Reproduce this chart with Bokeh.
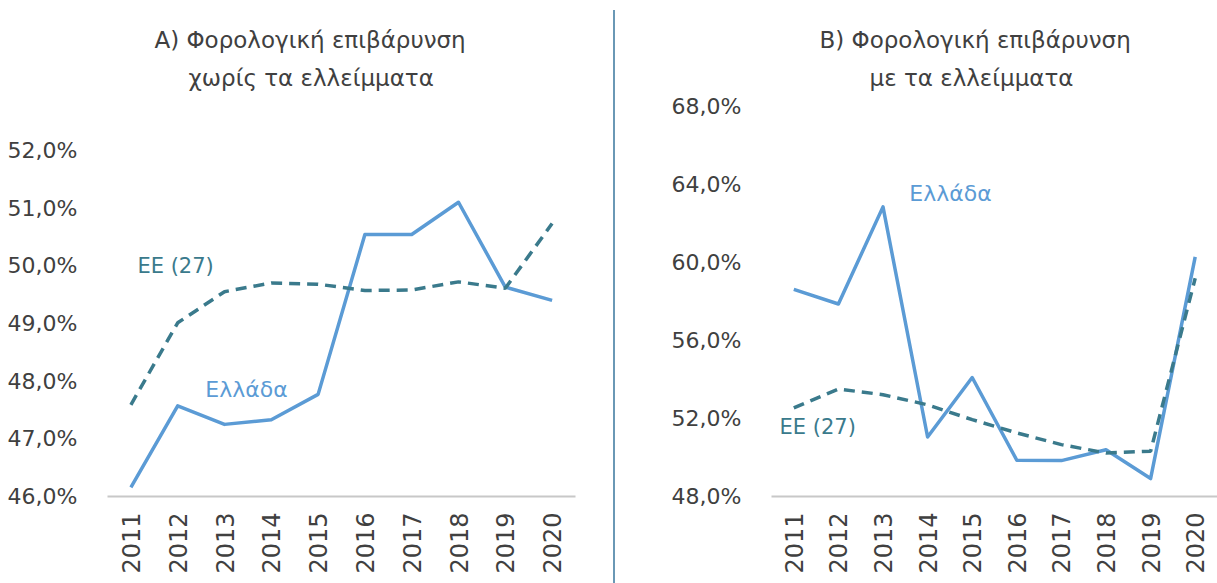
from bokeh.plotting import figure
from bokeh.models import Range1d, FixedTicker, Title, Label, Div
from bokeh.layouts import row
from bokeh.embed import file_html
from bokeh.resources import INLINE

years = ["2011", "2012", "2013", "2014", "2015", "2016", "2017", "2018", "2019", "2020"]

# Panel A: tax burden without deficits
a_greece = [46.16, 47.57, 47.25, 47.33, 47.77, 50.54, 50.54, 51.10, 49.63, 49.40]
a_eu = [47.59, 49.01, 49.55, 49.70, 49.68, 49.57, 49.58, 49.72, 49.61, 50.73]
a_ticks = [46, 47, 48, 49, 50, 51, 52]
a_tick_labels = ["46,0%", "47,0%", "48,0%", "49,0%", "50,0%", "51,0%", "52,0%"]

# Panel B: tax burden with deficits
b_greece = [58.62, 57.87, 62.85, 51.05, 54.10, 49.86, 49.84, 50.40, 48.92, 60.29]
b_eu = [52.54, 53.51, 53.22, 52.70, 51.94, 51.26, 50.66, 50.23, 50.32, 59.19]
b_ticks = [48, 52, 56, 60, 64, 68]
b_tick_labels = ["48,0%", "52,0%", "56,0%", "60,0%", "64,0%", "68,0%"]

title_a = ["A) Φορολογική επιβάρυνση", "χωρίς τα ελλείμματα"]
title_b = ["B) Φορολογική επιβάρυνση", "με τα ελλείμματα"]
label_greece = "Ελλάδα"
label_eu = "ΕΕ (27)"

FONT = "DejaVu Sans"
GREECE_COLOR = "#5B9BD5"
EU_COLOR = "#3A7A8C"
TEXT_COLOR = "#404040"


def make_panel(width, border_left, border_right, y_start, y_end, ticks, tick_labels,
               greece, eu, titles, title_offsets, gr_pos, eu_pos):
    p = figure(width=width, height=583, x_range=years,
               y_range=Range1d(y_start, y_end),
               output_backend="svg", toolbar_location=None,
               min_border_left=border_left, min_border_right=border_right,
               min_border_top=95, min_border_bottom=87)
    p.outline_line_color = None
    p.background_fill_color = None
    p.border_fill_color = None
    p.grid.grid_line_color = None

    p.yaxis.ticker = FixedTicker(ticks=ticks)
    p.yaxis.major_label_overrides = {t: l for t, l in zip(ticks, tick_labels)}
    p.yaxis.axis_line_color = None
    p.yaxis.major_tick_line_color = None
    p.yaxis.minor_tick_line_color = None
    p.yaxis.major_label_text_font = FONT
    p.yaxis.major_label_text_font_size = "22px"
    p.yaxis.major_label_text_color = TEXT_COLOR
    p.yaxis.major_label_standoff = 24

    p.xaxis.axis_line_color = "#c8c8c8"
    p.xaxis.axis_line_width = 2
    p.xaxis.major_tick_line_color = None
    p.xaxis.minor_tick_line_color = None
    p.xaxis.major_label_orientation = 1.5708
    p.xaxis.major_label_text_font = FONT
    p.xaxis.major_label_text_font_size = "24px"
    p.xaxis.major_label_text_color = TEXT_COLOR
    p.xaxis.major_label_standoff = 10

    p.line(years, greece, line_color=GREECE_COLOR, line_width=3.5, line_join="round")
    p.line(years, eu, line_color=EU_COLOR, line_width=3.5, line_dash="11 7")

    p.add_layout(Label(x=gr_pos[0], y=gr_pos[1], text=label_greece, text_font=FONT,
                       text_font_size="22px", text_color=GREECE_COLOR,
                       text_baseline="middle", text_align="left"))
    p.add_layout(Label(x=eu_pos[0], y=eu_pos[1], text=label_eu, text_font=FONT,
                       text_font_size="21px", text_color=EU_COLOR,
                       text_baseline="middle", text_align="left"))

    p.title = None
    # invisible spacer between the frame and the two-line title
    p.add_layout(Title(text=".", align="left", text_font=FONT, text_font_size="9px",
                       text_alpha=0, text_line_height=0.8), "above")
    p.add_layout(Title(text=titles[1], align="left", offset=title_offsets[1],
                       text_font=FONT, text_font_size="23px", text_font_style="normal",
                       text_color=TEXT_COLOR, text_line_height=0.8), "above")
    p.add_layout(Title(text=titles[0], align="left", offset=title_offsets[0],
                       text_font=FONT, text_font_size="23px", text_font_style="normal",
                       text_color=TEXT_COLOR), "above")
    return p


pa = make_panel(613, 107, 38, 46, 52.95, a_ticks, a_tick_labels, a_greece, a_eu,
                title_a, (47, 81), (2.09, 47.86), (0.64, 49.99))
pb = make_panel(602, 156, 0, 48, 68.56, b_ticks, b_tick_labels, b_greece, b_eu,
                title_b, (48, 98), (3.09, 63.54), (0.18, 51.54))

sep = Div(text="", width=2, height=573, margin=(10, 0, 0, 0),
          styles={"background-color": "#6a98b5"})

layout = row(pa, sep, pb, spacing=0)
open("out.html", "w").write(file_html(layout, INLINE))
